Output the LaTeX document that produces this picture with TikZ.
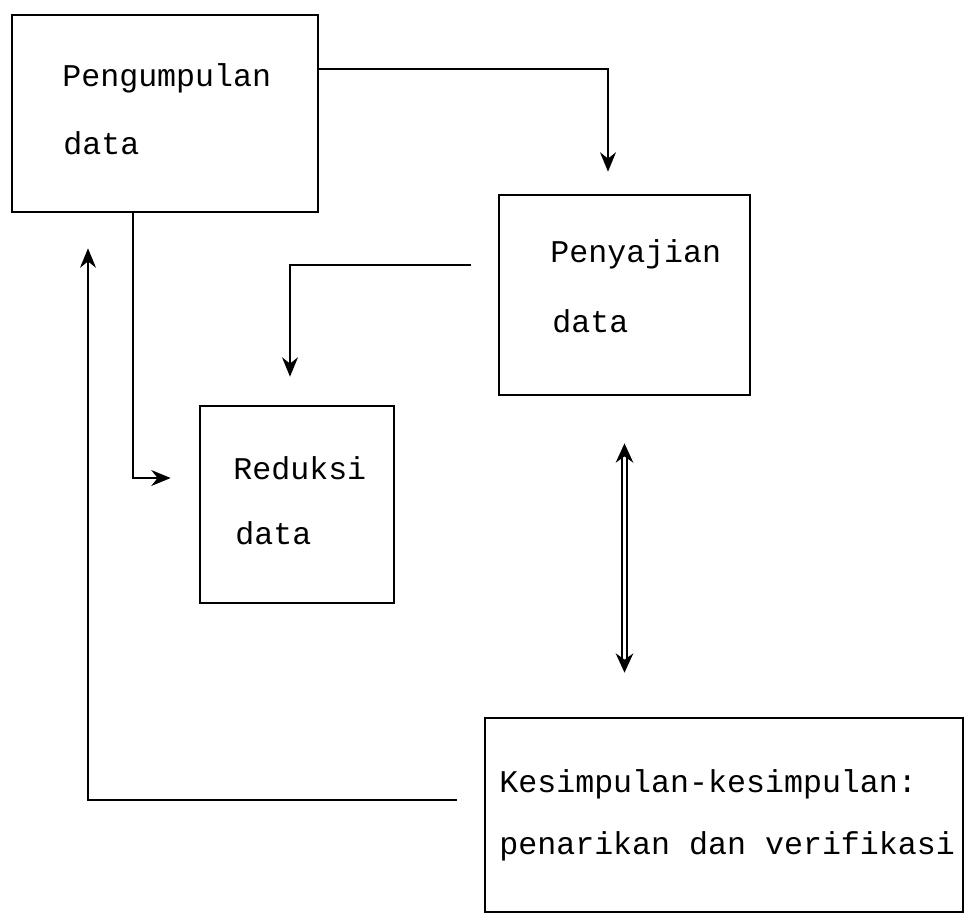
\documentclass[tikz,border=0pt]{standalone}
\usepackage{fontspec}
\setmonofont{Liberation Mono}
\usepackage{tikz}
\usetikzlibrary{arrows.meta, positioning, calc}
\tikzset{
  % Box styles
  stagebox/.style={rectangle, draw=black, line width=1.5pt, fill=white, inner sep=0pt},
  % Text styles
  boxtext/.style={anchor=west, inner sep=0pt, font=\ttfamily\fontsize{18}{22}\selectfont, text height=1.5ex, text depth=0.3ex},
  % Arrow styles
  arrow/.style={-{Stealth[length=11pt,width=9pt]}, line width=1.5pt, black},
  dblarrow/.style={{Stealth[length=11pt,width=10pt]}-{Stealth[length=11pt,width=10pt]}, double=white, double distance=1.8pt, line width=1.1pt, black}
}

\begin{document}
\begin{tikzpicture}
  \useasboundingbox (0,0) rectangle (19.38,-18.46);

  % Boxes
  \node[stagebox, minimum width=6.12cm, minimum height=3.94cm] (pengumpulan) at (3.30,-2.27) {};
  \node[boxtext] at (1.24,-1.64) {Pengumpulan};
  \node[boxtext] at (1.26,-3.00) {data};

  \node[stagebox, minimum width=5.02cm, minimum height=4.00cm] (penyajian) at (12.49,-5.90) {};
  \node[boxtext] at (11.00,-5.16) {Penyajian};
  \node[boxtext] at (11.04,-6.56) {data};

  \node[stagebox, minimum width=3.88cm, minimum height=3.94cm] (reduksi) at (5.94,-10.09) {};
  \node[boxtext] at (4.66,-9.50) {Reduksi};
  \node[boxtext] at (4.70,-10.80) {data};

  \node[stagebox, minimum width=9.56cm, minimum height=3.88cm] (kesimpulan) at (14.48,-16.30) {};
  \node[boxtext] at (9.98,-15.76) {Kesimpulan-kesimpulan:};
  \node[boxtext] at (9.98,-17.00) {penarikan dan verifikasi};

  % Connectors
  \draw[arrow] ([yshift=0.89cm]pengumpulan.east) -| ([xshift=-0.33cm,yshift=0.44cm]penyajian.north);
  \draw[arrow] ([xshift=-0.54cm,yshift=0.60cm]penyajian.west) -| ([xshift=-0.14cm,yshift=0.56cm]reduksi.north);
  \draw[arrow] ([xshift=-0.64cm]pengumpulan.south) |- ([xshift=-0.56cm,yshift=0.53cm]reduksi.west);
  \draw[dblarrow, shorten <=0.94cm, shorten >=0.88cm] (penyajian.south) -- (penyajian.south |- kesimpulan.north);
  \draw[arrow] ([xshift=-0.54cm,yshift=0.30cm]kesimpulan.west) -| ([xshift=-1.54cm,yshift=-0.70cm]pengumpulan.south);
\end{tikzpicture}
\end{document}
